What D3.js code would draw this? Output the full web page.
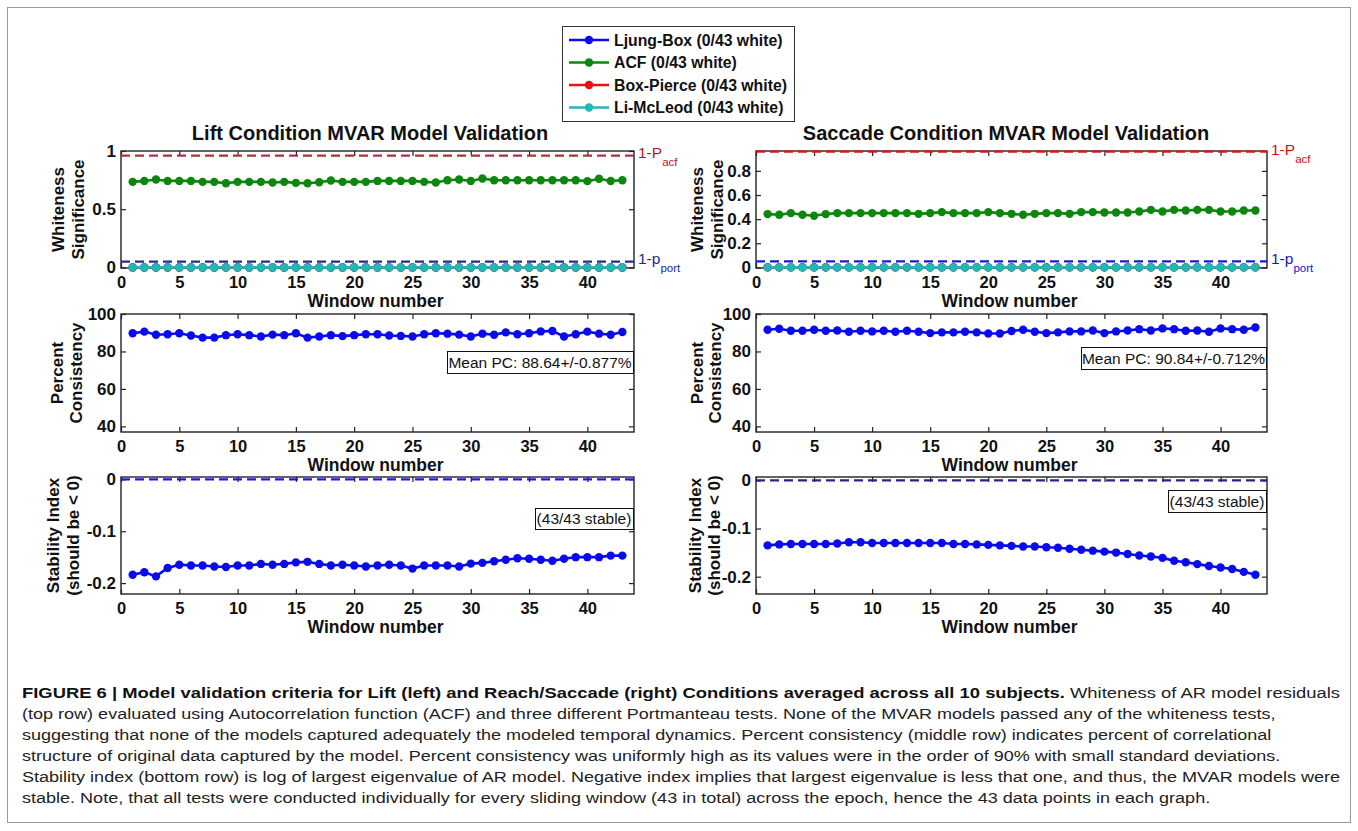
<!DOCTYPE html>
<html><head><meta charset="utf-8">
<script src="https://cdn.jsdelivr.net/npm/d3@7"></script>
<style>
body{margin:0;background:#fff}
svg{display:block}
text{font-family:"Liberation Sans",Arial,Helvetica,sans-serif}
</style>
</head><body>
<svg id="c" width="1358" height="831"></svg>
<script>
// ---------------- DATA ----------------
const windowNumber = [1,2,3,4,5,6,7,8,9,10,11,12,13,14,15,16,17,18,19,20,21,22,23,24,25,26,27,28,29,30,31,32,33,34,35,36,37,38,39,40,41,42,43];
const xTicks = [0,5,10,15,20,25,30,35,40];
const xTickLabels = ["0","5","10","15","20","25","30","35","40"];

const seriesNames = ["Ljung-Box (0/43 white)","ACF (0/43 white)","Box-Pierce (0/43 white)","Li-McLeod (0/43 white)"];

// Whiteness significance (top row)
const liftACF = [0.735,0.743,0.755,0.743,0.743,0.743,0.735,0.735,0.723,0.735,0.735,0.735,0.729,0.735,0.726,0.723,0.732,0.746,0.735,0.735,0.735,0.743,0.743,0.743,0.743,0.735,0.729,0.749,0.755,0.743,0.764,0.749,0.749,0.749,0.749,0.749,0.749,0.749,0.749,0.741,0.761,0.743,0.749];
const liftLjungBox  = [0,0,0,0,0,0,0,0,0,0,0,0,0,0,0,0,0,0,0,0,0,0,0,0,0,0,0,0,0,0,0,0,0,0,0,0,0,0,0,0,0,0,0];
const liftBoxPierce = [0,0,0,0,0,0,0,0,0,0,0,0,0,0,0,0,0,0,0,0,0,0,0,0,0,0,0,0,0,0,0,0,0,0,0,0,0,0,0,0,0,0,0];
const liftLiMcLeod  = [0,0,0,0,0,0,0,0,0,0,0,0,0,0,0,0,0,0,0,0,0,0,0,0,0,0,0,0,0,0,0,0,0,0,0,0,0,0,0,0,0,0,0];
const saccadeACF = [0.442,0.436,0.450,0.436,0.428,0.442,0.450,0.450,0.450,0.450,0.450,0.450,0.450,0.444,0.450,0.458,0.450,0.450,0.450,0.458,0.450,0.444,0.436,0.444,0.450,0.450,0.444,0.458,0.458,0.455,0.455,0.455,0.463,0.477,0.463,0.477,0.472,0.477,0.477,0.463,0.463,0.472,0.472];
const saccadeLjungBox  = [0,0,0,0,0,0,0,0,0,0,0,0,0,0,0,0,0,0,0,0,0,0,0,0,0,0,0,0,0,0,0,0,0,0,0,0,0,0,0,0,0,0,0];
const saccadeBoxPierce = [0,0,0,0,0,0,0,0,0,0,0,0,0,0,0,0,0,0,0,0,0,0,0,0,0,0,0,0,0,0,0,0,0,0,0,0,0,0,0,0,0,0,0];
const saccadeLiMcLeod  = [0,0,0,0,0,0,0,0,0,0,0,0,0,0,0,0,0,0,0,0,0,0,0,0,0,0,0,0,0,0,0,0,0,0,0,0,0,0,0,0,0,0,0];
const thresholdAcf = 0.96;   // 1-P_acf
const thresholdPort = 0.05;  // 1-p_port

// Percent consistency (middle row)
const liftPC = [89.7,90.6,88.9,89.2,89.7,88.5,87.4,87.4,88.7,89.2,88.7,88.0,89.0,88.7,89.7,87.4,88.0,88.7,88.2,88.7,89.2,89.2,88.5,88.3,88.0,89.2,89.7,89.5,89.0,88.0,89.5,88.9,90.2,89.2,89.7,90.7,90.9,88.0,89.2,90.6,89.5,88.9,90.4];
const saccadePC = [91.6,92.1,91.05,91.05,91.6,91.05,91.2,90.5,91.05,90.7,91.05,90.5,91.05,90.5,89.8,90.2,90.2,90.5,90.2,89.6,89.6,90.9,91.6,90.5,89.8,90.2,90.7,90.7,91.2,89.8,90.7,91.2,91.9,91.2,92.3,91.9,91.05,91.2,90.5,92.3,91.9,91.6,92.8];
const liftPCLabel = "Mean PC: 88.64+/-0.877%";
const saccadePCLabel = "Mean PC: 90.84+/-0.712%";

// Stability index (bottom row)
const liftSI = [-0.184,-0.179,-0.187,-0.171,-0.1645,-0.166,-0.166,-0.168,-0.169,-0.166,-0.166,-0.163,-0.1645,-0.163,-0.160,-0.159,-0.163,-0.166,-0.1645,-0.166,-0.168,-0.166,-0.1645,-0.166,-0.172,-0.166,-0.166,-0.166,-0.168,-0.1625,-0.161,-0.158,-0.155,-0.152,-0.153,-0.155,-0.157,-0.153,-0.150,-0.150,-0.150,-0.147,-0.147];
const saccadeSI = [-0.135,-0.133,-0.132,-0.132,-0.132,-0.132,-0.131,-0.1285,-0.1285,-0.130,-0.130,-0.130,-0.130,-0.130,-0.130,-0.130,-0.132,-0.132,-0.133,-0.134,-0.135,-0.136,-0.1375,-0.1375,-0.139,-0.140,-0.142,-0.144,-0.146,-0.148,-0.150,-0.153,-0.156,-0.158,-0.161,-0.167,-0.170,-0.174,-0.178,-0.181,-0.184,-0.190,-0.196];
const stableLabel = "(43/43 stable)";
const stabilityThreshold = 0;

// Tick values/labels
const yTicksWhiteLift = [0,0.5,1];
const yTickLabelsWhiteLift = ["0","0.5","1"];
const yTicksWhiteSacc = [0,0.2,0.4,0.6,0.8];
const yTickLabelsWhiteSacc = ["0","0.2","0.4","0.6","0.8"];
const yTicksPC = [40,60,80,100];
const yTickLabelsPC = ["40","60","80","100"];
const yTicksSI = [-0.2,-0.1,0];
const yTickLabelsSI = ["-0.2","-0.1","0"];

const titles = ["Lift Condition MVAR Model Validation","Saccade Condition MVAR Model Validation"];

const captionLines = [
  ["FIGURE 6 | Model validation criteria for Lift (left) and Reach/Saccade (right) Conditions averaged across all 10 subjects.", " Whiteness of AR model residuals"],
  ["", "(top row) evaluated using Autocorrelation function (ACF) and three different Portmanteau tests. None of the MVAR models passed any of the whiteness tests,"],
  ["", "suggesting that none of the models captured adequately the modeled temporal dynamics. Percent consistency (middle row) indicates percent of correlational"],
  ["", "structure of original data captured by the model. Percent consistency was uniformly high as its values were in the order of 90% with small standard deviations."],
  ["", "Stability index (bottom row) is log of largest eigenvalue of AR model. Negative index implies that largest eigenvalue is less that one, and thus, the MVAR models were"],
  ["", "stable. Note, that all tests were conducted individually for every sliding window (43 in total) across the epoch, hence the 43 data points in each graph."]
];

// ---------------- DRAWING ----------------
const C = {blue:"#0a0aee", green:"#0c860c", red:"#ee1111", cyan:"#26b4b4"};
const svg = d3.select("#c");
svg.append("rect").attr("width",1358).attr("height",831).attr("fill","#fff");
svg.append("rect").attr("x",7.5).attr("y",7.5).attr("width",1343).attr("height",815)
  .attr("fill","none").attr("stroke","#9a9a9a").attr("stroke-width",1);

const cols = [{x0:121,x1:634},{x0:756,x1:1267}];
const rows = [{y0:151,y1:268},{y0:314,y1:432},{y0:477,y1:594}];

function drawPanel(o){
  const g = svg.append("g");
  const x = d3.scaleLinear().domain([0,44]).range([o.x0,o.x1]);
  const y = d3.scaleLinear().domain(o.yDomain).range([o.y1,o.y0]);
  g.append("rect").attr("x",o.x0).attr("y",o.y0).attr("width",o.x1-o.x0).attr("height",o.y1-o.y0)
    .attr("fill","#fff").attr("stroke","none");

  const styleAxis = s => {
    s.select(".domain").remove();
    s.selectAll(".tick line").attr("stroke","#222").attr("stroke-width",1.2);
    s.selectAll(".tick text").attr("fill","#111").attr("font-weight","bold")
      .attr("font-family",'"Liberation Sans",Arial,sans-serif');
  };
  g.append("g").attr("transform",`translate(0,${o.y1})`)
    .call(d3.axisBottom(x).tickValues(xTicks).tickFormat((d,i)=>xTickLabels[i]).tickSize(-5).tickPadding(8))
    .call(styleAxis).call(s=>s.selectAll(".tick text").attr("font-size",16.5));
  g.append("g").attr("transform",`translate(0,${o.y0})`)
    .call(d3.axisTop(x).tickValues(xTicks).tickFormat("").tickSize(-5)).call(styleAxis);
  g.append("g").attr("transform",`translate(${o.x0},0)`)
    .call(d3.axisLeft(y).tickValues(o.yTicks).tickFormat((d,i)=>o.yTickLabels[i]).tickSize(-5).tickPadding(5))
    .call(styleAxis).call(s=>s.selectAll(".tick text").attr("font-size",17));
  g.append("g").attr("transform",`translate(${o.x1},0)`)
    .call(d3.axisRight(y).tickValues(o.yTicks).tickFormat("").tickSize(-5)).call(styleAxis);

  g.append("rect").attr("x",o.x0).attr("y",o.y0).attr("width",o.x1-o.x0).attr("height",o.y1-o.y0)
    .attr("fill","none").attr("stroke","#222").attr("stroke-width",1.4);

  (o.hlines||[]).forEach(h=>{
    g.append("line").attr("x1",x(0)).attr("x2",x(44)).attr("y1",y(h.v)).attr("y2",y(h.v))
      .attr("stroke",h.color).attr("stroke-width",2.2).attr("stroke-dasharray","9,5");
  });

  const line = d3.line().x((d,i)=>x(windowNumber[i])).y(d=>y(d));
  o.series.forEach(s=>{
    g.append("path").datum(s.values).attr("d",line).attr("fill","none")
      .attr("stroke",s.color).attr("stroke-width",2.6);
    g.selectAll(null).data(s.values).join("circle")
      .attr("cx",(d,i)=>x(windowNumber[i])).attr("cy",d=>y(d)).attr("r",4.2).attr("fill",s.color);
  });

  // x label
  g.append("text").attr("x",(o.x0+o.x1)/2-2).attr("y",o.y1+39).attr("text-anchor","middle")
    .attr("font-weight","bold").attr("font-size",17.5).attr("fill","#111").text("Window number");

  // y label (two lines, rotated)
  const cy = (o.y0+o.y1)/2;
  o.ylabel.forEach((t,i)=>{
    g.append("text").attr("transform",`translate(${o.ylabelX[i]},${cy}) rotate(-90)`)
      .attr("dy","0.35em").attr("text-anchor","middle").attr("font-weight","bold")
      .attr("font-size",17).attr("fill","#111").text(t);
  });

  // annotation box
  if(o.box){
    const b = o.box;
    g.append("rect").attr("x",b.x0+0.5).attr("y",b.y0+0.5).attr("width",b.x1-b.x0).attr("height",b.y1-b.y0)
      .attr("fill","#fff").attr("stroke","#111").attr("stroke-width",1);
    g.append("text").attr("x",(b.x0+b.x1)/2).attr("y",(b.y0+b.y1)/2+5.5).attr("text-anchor","middle")
      .attr("font-size",15.5).attr("fill","#111").text(b.text);
  }
  // threshold annotations
  (o.notes||[]).forEach(n=>{
    const t = g.append("text").attr("x",o.x1+4).attr("y",n.y).attr("fill",n.color).attr("font-size",15.5);
    t.append("tspan").text(n.main);
    t.append("tspan").attr("dy",8).attr("font-size",11.5).text(n.sub);
  });
  return {x,y};
}

// top row
drawPanel({x0:cols[0].x0,x1:cols[0].x1,y0:rows[0].y0,y1:rows[0].y1,yDomain:[-0.005,1],
  yTicks:yTicksWhiteLift,yTickLabels:yTickLabelsWhiteLift,
  hlines:[{v:thresholdAcf,color:"#b0303c"},{v:thresholdPort,color:"#2a2a90"}],
  series:[{values:liftLjungBox,color:C.blue},{values:liftACF,color:C.green},{values:liftBoxPierce,color:C.red},{values:liftLiMcLeod,color:C.cyan}],
  ylabel:["Whiteness","Significance"],ylabelX:[58,78],
  notes:[{main:"1-P",sub:"acf",y:158,color:"#b0182a"},{main:"1-p",sub:"port",y:264,color:"#22229a"}]});
drawPanel({x0:cols[1].x0,x1:cols[1].x1,y0:rows[0].y0,y1:rows[0].y1,yDomain:[-0.005,0.965],
  yTicks:yTicksWhiteSacc,yTickLabels:yTickLabelsWhiteSacc,
  hlines:[{v:thresholdAcf,color:"#e01414"},{v:thresholdPort,color:"#1818e0"}],
  series:[{values:saccadeLjungBox,color:C.blue},{values:saccadeACF,color:C.green},{values:saccadeBoxPierce,color:C.red},{values:saccadeLiMcLeod,color:C.cyan}],
  ylabel:["Whiteness","Significance"],ylabelX:[697,717],
  notes:[{main:"1-P",sub:"acf",y:155,color:"#d01010"},{main:"1-p",sub:"port",y:264,color:"#1414c8"}]});

// middle row
drawPanel({x0:cols[0].x0,x1:cols[0].x1,y0:rows[1].y0,y1:rows[1].y1,yDomain:[37,100],
  yTicks:yTicksPC,yTickLabels:yTickLabelsPC,
  series:[{values:liftPC,color:C.blue}],
  ylabel:["Percent","Consistency"],ylabelX:[57,76],
  box:{x0:447,x1:633,y0:351,y1:373,text:liftPCLabel}});
drawPanel({x0:cols[1].x0,x1:cols[1].x1,y0:rows[1].y0,y1:rows[1].y1,yDomain:[37,100],
  yTicks:yTicksPC,yTickLabels:yTickLabelsPC,
  series:[{values:saccadePC,color:C.blue}],
  ylabel:["Percent","Consistency"],ylabelX:[697,715],
  box:{x0:1081,x1:1266,y0:347,y1:369,text:saccadePCLabel}});

// bottom row
drawPanel({x0:cols[0].x0,x1:cols[0].x1,y0:rows[2].y0,y1:rows[2].y1,yDomain:[-0.221,0.0045],
  yTicks:yTicksSI,yTickLabels:yTickLabelsSI,
  hlines:[{v:stabilityThreshold,color:"#1a1ae8"}],
  series:[{values:liftSI,color:C.blue}],
  ylabel:["Stability Index","(should be < 0)"],ylabelX:[53,73],
  box:{x0:535,x1:633,y0:508,y1:529,text:stableLabel}});
drawPanel({x0:cols[1].x0,x1:cols[1].x1,y0:rows[2].y0,y1:rows[2].y1,yDomain:[-0.236,0.007],
  yTicks:yTicksSI,yTickLabels:yTickLabelsSI,
  hlines:[{v:stabilityThreshold,color:"#242488"}],
  series:[{values:saccadeSI,color:C.blue}],
  ylabel:["Stability Index","(should be < 0)"],ylabelX:[695,714],
  box:{x0:1168,x1:1266,y0:490,y1:512,text:stableLabel}});

// titles
svg.append("text").attr("x",370).attr("y",140).attr("text-anchor","middle").attr("font-weight","bold")
  .attr("font-size",20).attr("fill","#111").text(titles[0]);
svg.append("text").attr("x",1006).attr("y",140).attr("text-anchor","middle").attr("font-weight","bold")
  .attr("font-size",20).attr("fill","#111").text(titles[1]);

// legend
const legendColors = [C.blue,C.green,C.red,C.cyan];
const lg = svg.append("g");
lg.append("rect").attr("x",562.5).attr("y",26.5).attr("width",232).attr("height",95)
  .attr("fill","#fff").attr("stroke","#333").attr("stroke-width",1);
const legendY = d3.scalePoint().domain(seriesNames).range([40,107.5]);
seriesNames.forEach((n,i)=>{
  const yy = legendY(n);
  lg.append("line").attr("x1",569).attr("x2",609).attr("y1",yy).attr("y2",yy)
    .attr("stroke",legendColors[i]).attr("stroke-width",2.6);
  lg.append("circle").attr("cx",589).attr("cy",yy).attr("r",4.2).attr("fill",legendColors[i]);
  lg.append("text").attr("x",614).attr("y",yy+5.5).attr("font-weight","bold").attr("font-size",15.8)
    .attr("fill","#111").text(n);
});

// caption: uniform horizontal condensing so that full lines span the text block
const cap = svg.append("g");
const capTexts = [];
captionLines.forEach((ln,i)=>{
  const t = cap.append("text").attr("x",22).attr("y",698+i*21).attr("font-size",15.5).attr("fill","#222");
  if(ln[0]) t.append("tspan").attr("font-weight","bold").attr("fill","#111").text(ln[0]);
  t.append("tspan").text(ln[1]);
  capTexts.push(t);
});
const full = 1318;
const f = full / capTexts[4].node().getComputedTextLength();
capTexts.forEach((t,i)=>{
  const w = t.node().getComputedTextLength();
  const target = (i===0||i===4) ? full : w*f;
  t.attr("textLength",target).attr("lengthAdjust","spacingAndGlyphs");
});
</script>
</body></html>
